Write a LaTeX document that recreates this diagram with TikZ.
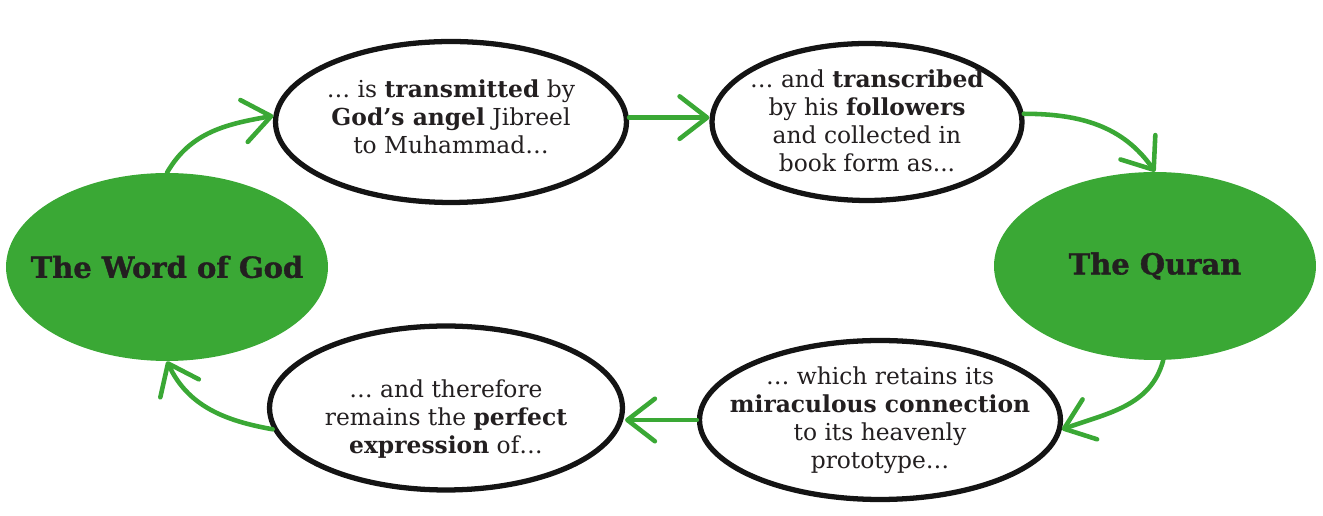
\documentclass[tikz,border=0pt]{standalone}
\usepackage{fontspec}
\setmainfont{DejaVu Serif}
\newfontfamily\titlefont{DejaVu Serif}[BoldFeatures={FakeBold=1.2}]
\usetikzlibrary{arrows.meta,shapes.geometric}
\definecolor{quranGreen}{RGB}{58,168,53}
\definecolor{quranInk}{RGB}{35,31,32}

\begin{document}
\begin{tikzpicture}[
  x=0.02cm, y=-0.02cm,
  source/.style={
    ellipse,
    fill=quranGreen,
    minimum width=6.44cm,
    minimum height=3.76cm,
    inner sep=-2cm,
    text=quranInk,
    font=\titlefont\bfseries\fontsize{16.5}{19}\selectfont
  },
  thought/.style={
    ellipse,
    draw=black!92,
    line width=3pt,
    fill=white
  },
  words/.style={
    align=center,
    inner sep=0pt,
    text=quranInk,
    font=\fontsize{13.3}{16}\selectfont
  },
  arrow/.style={-{Straight Barb[length=5.5mm,width=8.5mm,round]},line width=2.6pt,quranGreen,line cap=round}
]
  \useasboundingbox (0,0) rectangle (1323,516);

  \node[source] (word) at (167,267) {The Word of God};
  \node[source] (quran) at (1155,266) {The Quran};

  % speech bubbles, text set a bit off centre as in the original
  \node[thought,minimum width=7.02cm,minimum height=3.22cm] (transmit) at (451,122) {};
  \node[words] (transmitText) at ([yshift=2.8pt]transmit.center)
    {\ldots\ is \textbf{transmitted} by\\\textbf{God's angel} Jibreel\\to Muhammad\ldots};
  \node[thought,minimum width=6.2cm,minimum height=3.14cm] (transcribe) at (867,122) {};
  \node[words] (transcribeText) at ([yshift=0.6pt]transcribe.center)
    {\ldots\ and \textbf{transcribed}\\by his \textbf{followers}\\and collected in\\book form as...};
  \node[thought,minimum width=7.22cm,minimum height=3.18cm] (retain) at (880,420) {};
  \node[words] (retainText) at (retain.center)
    {\ldots\ which retains its\\\textbf{miraculous connection}\\to its heavenly\\prototype\ldots};
  \node[thought,minimum width=7.06cm,minimum height=3.28cm] (remain) at (446,408) {};
  \node[words] (remainText) at ([yshift=-6.3pt]remain.center)
    {\ldots\ and therefore\\remains the \textbf{perfect}\\\textbf{expression} of\ldots};

  \draw[arrow] (word.north) to[out=60,in=190] (transmit.178);
  \draw[arrow] ([yshift=2.5pt]transmit.east) -- ([yshift=2.5pt]transcribe.west);
  \draw[arrow] (transcribe.3) to[out=0,in=125] (quran.north);
  \draw[arrow] (quran.-85) to[out=-105,in=20] (retain.-3);
  \draw[arrow] (retain.west) -- (retain.west -| remain.east);
  \draw[arrow] (remain.187) to[out=170,in=-65] (word.south);
\end{tikzpicture}
\end{document}
